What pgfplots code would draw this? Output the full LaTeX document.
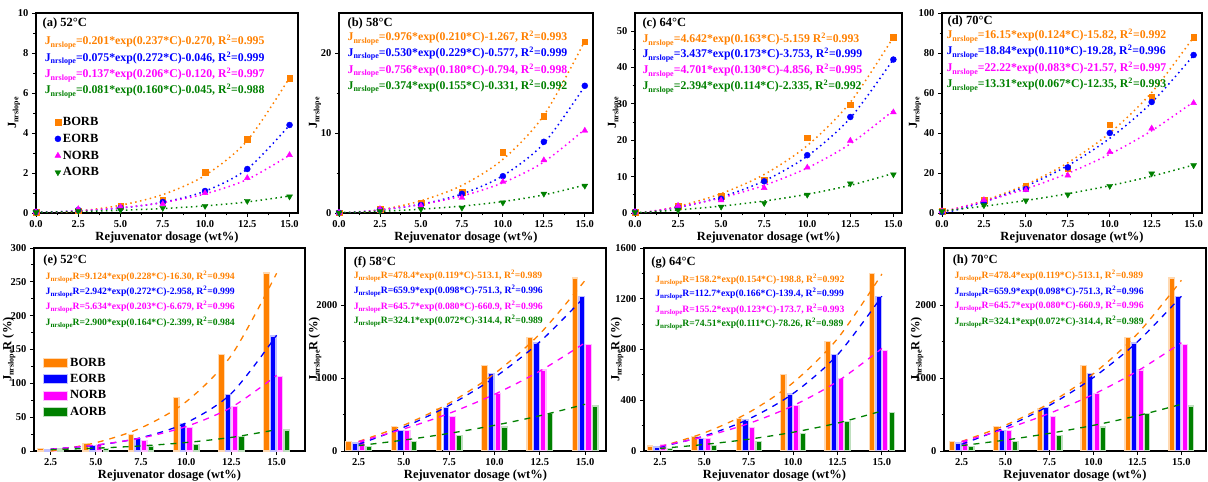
\documentclass[border=0pt]{standalone}
\usepackage{fontspec}
\setmainfont{Liberation Serif}
\usepackage{pgfplots}
\pgfplotsset{compat=1.18}

\definecolor{cB}{RGB}{255,128,0}
\definecolor{cE}{RGB}{0,0,255}
\definecolor{cN}{RGB}{255,0,255}
\definecolor{cA}{RGB}{0,128,0}

% J with the "nrslope" subscript at a given size
\newcommand\Jsub[1]{J\raisebox{-0.4ex}{\fontsize{#1}{#1}\selectfont nrslope}}
\newcommand\RR{R\textsuperscript{2}}
\newcommand\eqT{\fontsize{11.8}{12.5}\selectfont\bfseries}
\newcommand\ttl{\fontsize{12.5}{13.5}\selectfont\bfseries}
\newcommand\eqB{\fontsize{9.7}{10.5}\selectfont\bfseries}
% rotated y-axis titles, set beside a named axis
\newcommand\ylabT[2]{\node[rotate=90, font=\ttl] at ([xshift=#2]#1.west) {\Jsub{8}};}
\newcommand\ylabB[2]{\node[rotate=90, font=\ttl] at ([xshift=#2]#1.west) {\Jsub{8}R (\%)};}

\pgfplotsset{
  common/.style={
    scale only axis, anchor=south west,
    axis line style={line width=1.1pt},
    tick pos=left, tick align=outside,
    major tick length=4pt, minor tick length=2.5pt,
    every tick/.append style={black, line width=0.9pt},
    ticklabel style={font=\fontsize{10.5}{11}\selectfont\bfseries},
    /pgf/number format/assume math mode=true,
    yticklabel style={/pgf/number format/1000 sep={}},
    scaled y ticks=false,
    xlabel style={font=\fontsize{12.5}{13}\selectfont\bfseries, yshift=3pt},
    xlabel={Rejuvenator dosage (wt\%)},
    xticklabel style={/pgf/number format/.cd, fixed, fixed zerofill, precision=1},
  },
  top/.style={common, height=200pt, xmin=0, xmax=15.5, ymin=0,
    xtick={0,2.5,5,7.5,10,12.5,15}, minor x tick num=1, minor y tick num=1},
  bot/.style={common, height=203pt, ymin=0,
    xtick={2.5,5,7.5,10,12.5,15}, minor y tick num=1},
  fitT/.style={smooth, line width=1.5pt, dash pattern=on 1.5pt off 3.5pt, forget plot},
  fitB/.style={smooth, line width=1.3pt, dash pattern=on 6pt off 6pt, forget plot},
  mB/.style={only marks, mark=square*, mark size=2.8pt, color=cB},
  mE/.style={only marks, mark=*, mark size=3pt, color=cE},
  mN/.style={only marks, mark=triangle*, mark size=3.4pt, color=cN},
  mA/.style={only marks, mark=triangle*, mark size=3.4pt, color=cA, mark options={rotate=180}},
  barleg/.style={legend image code/.code={\draw[##1,/tikz/.cd,line width=1pt] (0pt,-4.5pt) rectangle (24pt,4.5pt);}},
  bB/.style={ybar, bar width=0.3, bar shift=-0.555, fill=cB, draw=cB!30, line width=1.2pt, barleg},
  bE/.style={ybar, bar width=0.3, bar shift=-0.185, fill=cE, draw=cE!25, line width=1.2pt, barleg},
  bN/.style={ybar, bar width=0.3, bar shift=0.185, fill=cN, draw=cN!25, line width=1.2pt, barleg},
  bA/.style={ybar, bar width=0.3, bar shift=0.555, fill=cA, draw=cA!25, line width=1.2pt, barleg},
}

\begin{document}
\begin{tikzpicture}
\useasboundingbox (0,0) rectangle (1208pt,482pt);

% ---------------- (a) 52 C ----------------
\begin{axis}[top, name=pa, at={(36pt,269pt)}, width=262pt, ymax=10, ytick={0,2,...,10},
  legend style={at={(rel axis cs:0.06,0.5)}, anchor=north west, draw=none, fill=none,
    font=\ttl, row sep=3pt}, legend cell align=left]
\addplot[mB] coordinates {(0,0.05) (2.5,0.12) (5,0.33) (7.5,0.65) (10,2.05) (12.5,3.7) (15,6.75)};
\addplot[mE] coordinates {(0,0.05) (2.5,0.15) (5,0.25) (7.5,0.55) (10,1.1) (12.5,2.2) (15,4.4)};
\addplot[mN] coordinates {(0,0.05) (2.5,0.2) (5,0.3) (7.5,0.45) (10,1.0) (12.5,1.75) (15,2.9)};
\addplot[mA] coordinates {(0,0.03) (2.5,0.1) (5,0.15) (7.5,0.25) (10,0.35) (12.5,0.6) (15,0.82)};
\legend{BORB,EORB,NORB,AORB}
\addplot[fitT, cB] coordinates {(0,-0.069) (2.5,0.094) (5,0.387) (7.5,0.919) (10,1.880) (12.5,3.619) (15,6.763)};
\addplot[fitT, cE] coordinates {(0,0.029) (2.5,0.102) (5,0.246) (7.5,0.531) (10,1.093) (12.5,2.201) (15,4.390)};
\addplot[fitT, cN] coordinates {(0,0.017) (2.5,0.109) (5,0.264) (7.5,0.522) (10,0.955) (12.5,1.679) (15,2.891)};
\addplot[fitT, cA] coordinates {(0,0.036) (2.5,0.076) (5,0.135) (7.5,0.224) (10,0.356) (12.5,0.554) (15,0.848)};
\node[anchor=west, font=\ttl] at (rel axis cs:0.012,0.948) {(a) 52°C};
\node[anchor=west, font=\eqT, text=cB] at (rel axis cs:0.02,0.855) {\Jsub{8}=0.201*exp(0.237*C)-0.270, \RR=0.995};
\node[anchor=west, font=\eqT, text=cE] at (rel axis cs:0.02,0.772) {\Jsub{8}=0.075*exp(0.272*C)-0.046, \RR=0.999};
\node[anchor=west, font=\eqT, text=cN] at (rel axis cs:0.02,0.690) {\Jsub{8}=0.137*exp(0.206*C)-0.120, \RR=0.997};
\node[anchor=west, font=\eqT, text=cA] at (rel axis cs:0.02,0.610) {\Jsub{8}=0.081*exp(0.160*C)-0.045, \RR=0.988};
\end{axis}
\ylabT{pa}{-22pt}

% ---------------- (b) 58 C ----------------
\begin{axis}[top, name=pb, at={(339pt,269pt)}, width=254pt, ymax=25, ytick={0,10,20}]
\addplot[fitT, cB] coordinates {(0,-0.291) (2.5,0.383) (5,1.522) (7.5,3.448) (10,6.703) (12.5,12.20) (15,21.51)};
\addplot[fitT, cE] coordinates {(0,-0.047) (2.5,0.363) (5,1.088) (7.5,2.376) (10,4.657) (12.5,8.703) (15,15.87)};
\addplot[fitT, cN] coordinates {(0,-0.038) (2.5,0.392) (5,1.066) (7.5,2.122) (10,3.780) (12.5,6.379) (15,10.456)};
\addplot[fitT, cA] coordinates {(0,0.043) (2.5,0.220) (5,0.481) (7.5,0.865) (10,1.431) (12.5,2.265) (15,3.494)};
\addplot[mB] coordinates {(0,0.05) (2.5,0.5) (5,1.3) (7.5,2.6) (10,7.6) (12.5,12.1) (15,21.4)};
\addplot[mE] coordinates {(0,0.05) (2.5,0.4) (5,1.0) (7.5,2.4) (10,4.6) (12.5,8.9) (15,15.9)};
\addplot[mN] coordinates {(0,0.05) (2.5,0.5) (5,0.9) (7.5,1.9) (10,3.9) (12.5,6.6) (15,10.3)};
\addplot[mA] coordinates {(0,0.03) (2.5,0.25) (5,0.5) (7.5,0.65) (10,1.3) (12.5,2.4) (15,3.4)};
\node[anchor=west, font=\ttl] at (rel axis cs:0.02,0.948) {(b) 58°C};
\node[anchor=west, font=\eqT, text=cB] at (rel axis cs:0.02,0.875) {\Jsub{8}=0.976*exp(0.210*C)-1.267, \RR=0.993};
\node[anchor=west, font=\eqT, text=cE] at (rel axis cs:0.02,0.797) {\Jsub{8}=0.530*exp(0.229*C)-0.577, \RR=0.999};
\node[anchor=west, font=\eqT, text=cN] at (rel axis cs:0.02,0.712) {\Jsub{8}=0.756*exp(0.180*C)-0.794, \RR=0.998};
\node[anchor=west, font=\eqT, text=cA] at (rel axis cs:0.02,0.632) {\Jsub{8}=0.374*exp(0.155*C)-0.331, \RR=0.992};
\end{axis}
\ylabT{pb}{-24pt}

% ---------------- (c) 64 C ----------------
\begin{axis}[top, name=pc, at={(635pt,269pt)}, width=267pt, ymax=55, ytick={0,10,...,50}]
\addplot[fitT, cB] coordinates {(0,-0.517) (2.5,1.818) (5,5.328) (7.5,10.60) (10,18.53) (12.5,30.45) (15,48.36)};
\addplot[fitT, cE] coordinates {(0,-0.316) (2.5,1.543) (5,4.410) (7.5,8.826) (10,15.635) (12.5,26.13) (15,42.30)};
\addplot[fitT, cN] coordinates {(0,-0.155) (2.5,1.650) (5,4.149) (7.5,7.607) (10,12.39) (12.5,19.02) (15,28.19)};
\addplot[fitT, cA] coordinates {(0,0.059) (2.5,0.849) (5,1.898) (7.5,3.294) (10,5.151) (12.5,7.619) (15,10.90)};
\addplot[mB] coordinates {(0,0.3) (2.5,1.8) (5,4.6) (7.5,9.2) (10,20.7) (12.5,29.8) (15,48.3)};
\addplot[mE] coordinates {(0,0.3) (2.5,1.5) (5,3.9) (7.5,8.7) (10,15.9) (12.5,26.4) (15,42.2)};
\addplot[mN] coordinates {(0,0.3) (2.5,2.0) (5,3.5) (7.5,6.9) (10,12.5) (12.5,19.9) (15,27.7)};
\addplot[mA] coordinates {(0,0.2) (2.5,0.8) (5,1.7) (7.5,2.7) (10,5.0) (12.5,8.1) (15,10.6)};
\node[anchor=west, font=\ttl] at (rel axis cs:0.015,0.948) {(c) 64°C};
\node[anchor=west, font=\eqT, text=cB] at (rel axis cs:0.015,0.865) {\Jsub{8}=4.642*exp(0.163*C)-5.159 \RR=0.993};
\node[anchor=west, font=\eqT, text=cE] at (rel axis cs:0.015,0.790) {\Jsub{8}=3.437*exp(0.173*C)-3.753, \RR=0.999};
\node[anchor=west, font=\eqT, text=cN] at (rel axis cs:0.015,0.710) {\Jsub{8}=4.701*exp(0.130*C)-4.856, \RR=0.995};
\node[anchor=west, font=\eqT, text=cA] at (rel axis cs:0.015,0.630) {\Jsub{8}=2.394*exp(0.114*C)-2.335, \RR=0.992};
\end{axis}
\ylabT{pc}{-21pt}

% ---------------- (d) 70 C ----------------
\begin{axis}[top, name=pd, at={(942pt,269pt)}, width=260pt, ymax=100, ytick={0,20,...,100}]
\addplot[fitT, cB] coordinates {(0,0.33) (2.5,6.20) (5,14.20) (7.5,25.11) (10,39.99) (12.5,60.27) (15,87.92)};
\addplot[fitT, cE] coordinates {(0,-0.44) (2.5,5.52) (5,13.38) (7.5,23.71) (10,37.32) (12.5,55.23) (15,78.82)};
\addplot[fitT, cN] coordinates {(0,0.65) (2.5,5.77) (5,12.08) (7.5,19.84) (10,29.39) (12.5,41.14) (15,55.60)};
\addplot[fitT, cA] coordinates {(0,0.96) (2.5,3.39) (5,6.26) (7.5,9.65) (10,13.66) (12.5,18.40) (15,24.01)};
\addplot[mB] coordinates {(0,0.8) (2.5,6.3) (5,13.5) (7.5,22.5) (10,44.2) (12.5,58.0) (15,88.0)};
\addplot[mE] coordinates {(0,0.5) (2.5,5.5) (5,12.0) (7.5,22.8) (10,40.0) (12.5,55.5) (15,79.0)};
\addplot[mN] coordinates {(0,1.0) (2.5,6.5) (5,11.5) (7.5,18.8) (10,30.5) (12.5,42.3) (15,55.0)};
\addplot[mA] coordinates {(0,0.8) (2.5,3.8) (5,6.2) (7.5,9.2) (10,13.5) (12.5,19.7) (15,23.8)};
\node[anchor=west, font=\ttl] at (rel axis cs:0.008,0.958) {(d) 70°C};
\node[anchor=west, font=\eqT, text=cB] at (rel axis cs:0.004,0.885) {\Jsub{8}=16.15*exp(0.124*C)-15.82, \RR=0.992};
\node[anchor=west, font=\eqT, text=cE] at (rel axis cs:0.004,0.805) {\Jsub{8}=18.84*exp(0.110*C)-19.28, \RR=0.996};
\node[anchor=west, font=\eqT, text=cN] at (rel axis cs:0.004,0.720) {\Jsub{8}=22.22*exp(0.083*C)-21.57, \RR=0.997};
\node[anchor=west, font=\eqT, text=cA] at (rel axis cs:0.004,0.640) {\Jsub{8}=13.31*exp(0.067*C)-12.35, \RR=0.993};
\end{axis}
\ylabT{pd}{-27pt}

% ---------------- (e) 52 C ----------------
\begin{axis}[bot, name=pe, at={(34pt,31pt)}, width=271pt, xmin=1.58, xmax=16.57, ymax=300, ytick={0,50,...,300},
  legend style={at={(rel axis cs:0.022,0.478)}, anchor=north west, draw=none, fill=none,
    font=\ttl, row sep=2.5pt}, legend cell align=left]
\addplot[bB] coordinates {(2.5,4) (5,11) (7.5,24) (10,79) (12.5,143) (15,263)};
\addplot[bE] coordinates {(2.5,2) (5,8) (7.5,19) (10,41) (12.5,84) (15,170)};
\addplot[bN] coordinates {(2.5,4) (5,10) (7.5,15) (10,35) (12.5,66) (15,110)};
\addplot[bA] coordinates {(2.5,3) (5,4) (7.5,7) (10,10) (12.5,22) (15,31)};
\legend{BORB,EORB,NORB,AORB}
\addplot[fitB, cB] coordinates {(2.5,-0.17) (5,12.23) (7.5,34.15) (10,72.91) (12.5,141.45) (15,262.6)};
\addplot[fitB, cE] coordinates {(2.5,2.85) (5,8.50) (7.5,19.67) (10,41.70) (12.5,85.18) (15,171.06)};
\addplot[fitB, cN] coordinates {(2.5,2.68) (5,8.87) (7.5,19.15) (10,36.22) (12.5,64.59) (15,111.7)};
\addplot[fitB, cA] coordinates {(2.5,1.97) (5,4.19) (7.5,7.52) (10,12.55) (12.5,20.13) (15,31.54)};
\node[anchor=west, font=\ttl] at (rel axis cs:0.022,0.94) {(e) 52°C};
\node[anchor=west, font=\eqB, text=cB] at (rel axis cs:0.03,0.857) {\Jsub{7}R=9.124*exp(0.228*C)-16.30, \RR=0.994};
\node[anchor=west, font=\eqB, text=cE] at (rel axis cs:0.03,0.783) {\Jsub{7}R=2.942*exp(0.272*C)-2.958, \RR=0.999};
\node[anchor=west, font=\eqB, text=cN] at (rel axis cs:0.03,0.709) {\Jsub{7}R=5.634*exp(0.203*C)-6.679, \RR=0.996};
\node[anchor=west, font=\eqB, text=cA] at (rel axis cs:0.03,0.631) {\Jsub{7}R=2.900*exp(0.164*C)-2.399, \RR=0.984};
\end{axis}
\ylabB{pe}{-25pt}

% ---------------- (f) 58 C ----------------
\begin{axis}[bot, name=pf, at={(345pt,31pt)}, width=261pt, xmin=1.75, xmax=16.15, ymax=2780, ytick={0,1000,2000}]
\addplot[bB] coordinates {(2.5,135) (5,340) (7.5,575) (10,1170) (12.5,1550) (15,2370)};
\addplot[bE] coordinates {(2.5,110) (5,285) (7.5,595) (10,1060) (12.5,1480) (15,2120)};
\addplot[bN] coordinates {(2.5,140) (5,285) (7.5,470) (10,790) (12.5,1110) (15,1460)};
\addplot[bA] coordinates {(2.5,65) (5,135) (7.5,215) (10,330) (12.5,510) (15,615)};
\addplot[fitB, cB] coordinates {(2.5,131.1) (5,354.2) (7.5,654.8) (10,1059.5) (12.5,1604.4) (15,2338.0)};
\addplot[fitB, cE] coordinates {(2.5,91.8) (5,325.9) (7.5,624.9) (10,1007.0) (12.5,1495.1) (15,2118.7)};
\addplot[fitB, cN] coordinates {(2.5,127.8) (5,302.4) (7.5,515.6) (10,776.1) (12.5,1094.3) (15,1482.9)};
\addplot[fitB, cA] coordinates {(2.5,73.6) (5,150.1) (7.5,241.8) (10,351.4) (12.5,482.8) (15,640.0)};
\node[anchor=west, font=\ttl] at (rel axis cs:0.02,0.93) {(f) 58°C};
\node[anchor=west, font=\eqB, text=cB] at (rel axis cs:0.02,0.862) {\Jsub{7}R=478.4*exp(0.119*C)-513.1, \RR=0.989};
\node[anchor=west, font=\eqB, text=cE] at (rel axis cs:0.02,0.788) {\Jsub{7}R=659.9*exp(0.098*C)-751.3, \RR=0.996};
\node[anchor=west, font=\eqB, text=cN] at (rel axis cs:0.02,0.709) {\Jsub{7}R=645.7*exp(0.080*C)-660.9, \RR=0.996};
\node[anchor=west, font=\eqB, text=cA] at (rel axis cs:0.02,0.640) {\Jsub{7}R=324.1*exp(0.072*C)-314.4, \RR=0.989};
\end{axis}
\ylabB{pf}{-30pt}

% ---------------- (g) 64 C ----------------
\begin{axis}[bot, name=pg, at={(644pt,31pt)}, width=261pt, xmin=1.6, xmax=16.3, ymax=1600, ytick={0,400,...,1600}]
\addplot[bB] coordinates {(2.5,40) (5,115) (7.5,255) (10,600) (12.5,865) (15,1400)};
\addplot[bE] coordinates {(2.5,32) (5,99) (7.5,245) (10,450) (12.5,760) (15,1215)};
\addplot[bN] coordinates {(2.5,48) (5,100) (7.5,185) (10,360) (12.5,570) (15,795)};
\addplot[bA] coordinates {(2.5,19) (5,45) (7.5,75) (10,140) (12.5,235) (15,305)};
\addplot[fitB, cB] coordinates {(2.5,33.7) (5,142.9) (7.5,303.3) (10,539.1) (12.5,885.7) (15,1394.9)};
\addplot[fitB, cE] coordinates {(2.5,31.3) (5,119.1) (7.5,252.0) (10,453.3) (12.5,758.2) (15,1219.9)};
\addplot[fitB, cN] coordinates {(2.5,37.4) (5,113.4) (7.5,216.7) (10,357.3) (12.5,548.5) (15,808.4)};
\addplot[fitB, cA] coordinates {(2.5,20.08) (5,51.53) (7.5,93.04) (10,147.83) (12.5,220.14) (15,315.58)};
\node[anchor=west, font=\ttl] at (rel axis cs:0.015,0.93) {(g) 64°C};
\node[anchor=west, font=\eqB, text=cB] at (rel axis cs:0.03,0.842) {\Jsub{7}R=158.2*exp(0.154*C)-198.8, \RR=0.992};
\node[anchor=west, font=\eqB, text=cE] at (rel axis cs:0.03,0.773) {\Jsub{7}R=112.7*exp(0.166*C)-139.4, \RR=0.999};
\node[anchor=west, font=\eqB, text=cN] at (rel axis cs:0.03,0.695) {\Jsub{7}R=155.2*exp(0.123*C)-173.7, \RR=0.993};
\node[anchor=west, font=\eqB, text=cA] at (rel axis cs:0.03,0.626) {\Jsub{7}R=74.51*exp(0.111*C)-78.26, \RR=0.989};
\end{axis}
\ylabB{pg}{-27pt}

% ---------------- (h) 70 C ----------------
\begin{axis}[bot, name=ph, at={(944pt,31pt)}, width=262pt, xmin=1.5, xmax=16.4, ymax=2780, ytick={0,1000,2000}]
\addplot[bB] coordinates {(2.5,135) (5,340) (7.5,575) (10,1170) (12.5,1550) (15,2370)};
\addplot[bE] coordinates {(2.5,110) (5,285) (7.5,595) (10,1060) (12.5,1480) (15,2120)};
\addplot[bN] coordinates {(2.5,140) (5,285) (7.5,470) (10,790) (12.5,1110) (15,1460)};
\addplot[bA] coordinates {(2.5,65) (5,135) (7.5,215) (10,330) (12.5,510) (15,615)};
\addplot[fitB, cB] coordinates {(2.5,131.1) (5,354.2) (7.5,654.8) (10,1059.5) (12.5,1604.4) (15,2338.0)};
\addplot[fitB, cE] coordinates {(2.5,91.8) (5,325.9) (7.5,624.9) (10,1007.0) (12.5,1495.1) (15,2118.7)};
\addplot[fitB, cN] coordinates {(2.5,127.8) (5,302.4) (7.5,515.6) (10,776.1) (12.5,1094.3) (15,1482.9)};
\addplot[fitB, cA] coordinates {(2.5,73.6) (5,150.1) (7.5,241.8) (10,351.4) (12.5,482.8) (15,640.0)};
\node[anchor=west, font=\ttl] at (rel axis cs:0.02,0.94) {(h) 70°C};
\node[anchor=west, font=\eqB, text=cB] at (rel axis cs:0.027,0.862) {\Jsub{7}R=478.4*exp(0.119*C)-513.1, \RR=0.989};
\node[anchor=west, font=\eqB, text=cE] at (rel axis cs:0.027,0.783) {\Jsub{7}R=659.9*exp(0.098*C)-751.3, \RR=0.996};
\node[anchor=west, font=\eqB, text=cN] at (rel axis cs:0.027,0.714) {\Jsub{7}R=645.7*exp(0.080*C)-660.9, \RR=0.996};
\node[anchor=west, font=\eqB, text=cA] at (rel axis cs:0.027,0.635) {\Jsub{7}R=324.1*exp(0.072*C)-314.4, \RR=0.989};
\end{axis}
\ylabB{ph}{-27pt}
\end{tikzpicture}
\end{document}
